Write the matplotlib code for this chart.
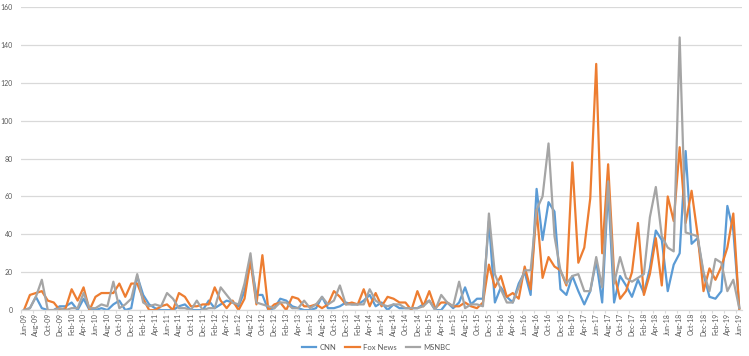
import numpy as np
import pandas as pd
import matplotlib
matplotlib.use('Agg')
import matplotlib.pyplot as plt

plt.rcParams['font.family'] = ['Lato', 'DejaVu Sans']

# monthly categories, Jun-09 .. Jun-19
months = pd.date_range('2009-06-01', '2019-06-01', freq='MS').strftime('%b-%y').tolist()

cnn = [0, 1, 7, 1, 0, 0, 2, 2, 4, 0,
       6, 0, 0, 1, 0, 3, 5, 0, 1, 18,
       8, 3, 1, 0, 0, 0, 2, 3, 0, 0,
       0, 5, 1, 3, 5, 4, 2, 10, 26, 8,
       8, 0, 1, 6, 5, 2, 1, 0, 0, 1,
       7, 1, 1, 2, 4, 3, 3, 5, 8, 2,
       4, 0, 3, 1, 1, 1, 1, 3, 5, 0,
       0, 4, 1, 4, 12, 3, 6, 6, 47, 4,
       12, 7, 4, 14, 20, 8, 64, 37, 57, 52,
       11, 8, 18, 10, 3, 10, 26, 4, 64, 4,
       18, 13, 7, 16, 9, 22, 42, 37, 10, 24,
       30, 84, 35, 38, 19, 7, 6, 10, 55, 42, 1]

fox = [0, 8, 9, 10, 5, 4, 0, 1, 11, 5,
       12, 0, 7, 9, 9, 9, 14, 7, 14, 14,
       6, 0, 0, 2, 3, 0, 9, 7, 2, 2,
       3, 3, 12, 5, 1, 5, 0, 6, 26, 3,
       29, 0, 3, 4, 0, 7, 6, 2, 2, 3,
       1, 3, 10, 7, 3, 4, 3, 11, 2, 9,
       2, 7, 6, 4, 4, 0, 10, 2, 10, 1,
       4, 4, 2, 2, 4, 2, 1, 4, 24, 12,
       18, 7, 9, 6, 23, 11, 53, 17, 28, 23,
       21, 13, 78, 25, 33, 59, 130, 30, 77, 19,
       6, 10, 20, 46, 8, 19, 38, 13, 60, 47,
       86, 46, 63, 40, 10, 22, 16, 23, 33, 51, 0]

msnbc = [0, 1, 7, 16, 0, 0, 1, 0, 1, 1,
         9, 1, 1, 3, 2, 15, 1, 3, 6, 19,
         4, 2, 3, 2, 9, 6, 1, 1, 0, 5,
         0, 1, 1, 12, 8, 4, 3, 14, 30, 4,
         3, 2, 1, 4, 4, 1, 1, 5, 1, 3,
         7, 3, 5, 13, 3, 3, 3, 3, 11, 5,
         3, 2, 3, 3, 1, 1, 1, 2, 5, 0,
         8, 4, 2, 15, 1, 3, 3, 2, 51, 19,
         11, 4, 4, 12, 21, 21, 53, 60, 88, 39,
         21, 14, 18, 19, 10, 10, 28, 12, 68, 14,
         28, 17, 15, 17, 19, 49, 65, 39, 33, 31,
         144, 41, 40, 39, 20, 10, 27, 25, 10, 16, 1]

series = [('CNN', cnn, '#5B9BD5'),
          ('Fox News', fox, '#ED7D31'),
          ('MSNBC', msnbc, '#A5A5A5')]

fig = plt.figure(figsize=(7.49, 3.56), dpi=100)
ax = fig.add_axes([0.028, 0.129, 0.963, 0.851])

x = np.arange(len(months))
for name, vals, col in series:
    ax.plot(x, vals, color=col, linewidth=1.6, label=name, solid_joinstyle='round')

ax.set_ylim(0, 160)
ax.set_yticks(range(0, 161, 20))
ax.set_xlim(-0.5, len(months) - 0.5)
ax.set_xticks(x[::2])
ax.set_xticklabels(months[::2], rotation=90)
ax.set_xticks(np.arange(-0.5, len(months), 2), minor=True)

ax.grid(True, axis='y', color='#D9D9D9', linewidth=0.9)
ax.set_axisbelow(True)
for s in ['top', 'right', 'left']:
    ax.spines[s].set_visible(False)
ax.spines['bottom'].set_color('#D9D9D9')
ax.spines['bottom'].set_linewidth(0.9)

ax.tick_params(axis='y', length=0, labelsize=5, colors='#595959', pad=6)
ax.tick_params(axis='x', which='major', length=0, labelsize=5, colors='#595959', pad=2)
ax.tick_params(axis='x', which='minor', length=2.5, color='#D9D9D9', width=0.8)

fig.legend(loc='center', bbox_to_anchor=(0.502, 0.024), ncol=3, frameon=False,
           fontsize=5.5, handlelength=1.9, handletextpad=0.4, columnspacing=1.2,
           labelcolor='#595959')

fig.savefig('out.png', dpi=100)
